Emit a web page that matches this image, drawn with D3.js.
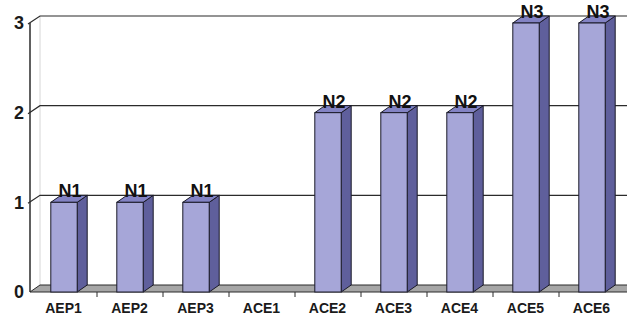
<!DOCTYPE html>
<html>
<head>
<meta charset="utf-8">
<script src="https://cdnjs.cloudflare.com/ajax/libs/d3/7.8.5/d3.min.js"></script>
<style>
  html, body { margin: 0; padding: 0; background: #fff; }
  svg { display: block; font-family: "Liberation Sans", Arial, sans-serif; }
</style>
</head>
<body>
<div id="chart"></div>
<script>
var categories = ["AEP1", "AEP2", "AEP3", "ACE1", "ACE2", "ACE3", "ACE4", "ACE5", "ACE6"];
var values = [1, 1, 1, 0, 2, 2, 2, 3, 3];
var barLabels = ["N1", "N1", "N1", "", "N2", "N2", "N2", "N3", "N3"];
var yTicks = [0, 1, 2, 3];

var width = 627, height = 320;
var dx = 10, dy = -7;   // depth offset of the 3d box

var svg = d3.select("#chart").append("svg")
  .attr("width", width)
  .attr("height", height);

var x = d3.scaleBand()
  .domain(categories)
  .range([31, 625])
  .paddingInner(0)
  .paddingOuter(0);

var y = d3.scaleLinear()
  .domain([0, 3])
  .range([292, 23]);

var left = x.range()[0] - 1;

// back wall left edge
svg.append("line")
  .attr("x1", left + dx).attr("x2", left + dx)
  .attr("y1", y(3) + dy).attr("y2", y(0) + dy)
  .attr("stroke", "#d6d6d6");

// gridlines: side wall diagonal + back wall horizontal
var grid = svg.append("g").attr("class", "grid");
yTicks.filter(function(d){ return d > 0; }).forEach(function(t){
  grid.append("path")
    .attr("d", "M" + (left - 2) + "," + (y(t) + 1) +
               "L" + (left + dx) + "," + (y(t) + dy) +
               "L" + width + "," + (y(t) + dy))
    .attr("fill", "none")
    .attr("stroke", "#2b2b2b")
    .attr("stroke-width", 1.2);
});

// floor
svg.append("path")
  .attr("d", "M" + left + "," + y(0) +
             "L" + (left + dx) + "," + (y(0) + dy) +
             "L" + (width + dx) + "," + (y(0) + dy) +
             "L" + width + "," + y(0) + "Z")
  .attr("fill", "#a6a6a6")
  .attr("stroke", "#2b2b2b")
  .attr("stroke-width", 1);

// value axis line
svg.append("line")
  .attr("x1", left).attr("x2", left)
  .attr("y1", y(3)).attr("y2", y(0))
  .attr("stroke", "#2b2b2b")
  .attr("stroke-width", 1.5);

// y tick labels
svg.append("g").selectAll("text")
  .data(yTicks)
  .enter()
  .append("text")
  .attr("x", 24)
  .attr("y", function(d){ return y(d); })
  .attr("dy", "0.36em")
  .attr("text-anchor", "end")
  .attr("font-size", "18px")
  .attr("font-weight", "bold")
  .attr("fill", "#1a1a1a")
  .text(function(d){ return d; });

// category ticks
svg.append("g").selectAll("line")
  .data(categories.slice(1))
  .enter()
  .append("line")
  .attr("x1", function(d){ return x(d); })
  .attr("x2", function(d){ return x(d); })
  .attr("y1", y(0))
  .attr("y2", y(0) + 5)
  .attr("stroke", "#2b2b2b");

// category labels
svg.append("g").selectAll("text")
  .data(categories)
  .enter()
  .append("text")
  .attr("x", function(d){ return x(d) + x.bandwidth() / 2 - 0.5; })
  .attr("y", 313)
  .attr("text-anchor", "middle")
  .attr("font-size", "14px")
  .attr("font-weight", "bold")
  .attr("fill", "#1a1a1a")
  .text(function(d){ return d; });

// bars
var barW = x.bandwidth() * 0.4;
var data = categories.map(function(c, i){
  return { name: c, value: values[i], label: barLabels[i] };
});

var bars = svg.append("g").selectAll("g")
  .data(data.filter(function(d){ return d.value > 0; }))
  .enter()
  .append("g")
  .attr("transform", function(d){
    return "translate(" + (x(d.name) + x.bandwidth() / 2 - barW / 2) + ",0)";
  });

// side face
bars.append("path")
  .attr("d", function(d){
    return "M" + barW + "," + y(0) +
           "L" + barW + "," + y(d.value) +
           "L" + (barW + dx) + "," + (y(d.value) + dy) +
           "L" + (barW + dx) + "," + (y(0) + dy) + "Z";
  })
  .attr("fill", "#5f5f9c")
  .attr("stroke", "#1a1a28")
  .attr("stroke-width", 1);

// top face
bars.append("path")
  .attr("d", function(d){
    return "M0," + y(d.value) +
           "L" + dx + "," + (y(d.value) + dy) +
           "L" + (barW + dx) + "," + (y(d.value) + dy) +
           "L" + barW + "," + y(d.value) + "Z";
  })
  .attr("fill", "#8383c4")
  .attr("stroke", "#1a1a28")
  .attr("stroke-width", 1);

// front face
bars.append("rect")
  .attr("x", 0)
  .attr("y", function(d){ return y(d.value); })
  .attr("width", barW)
  .attr("height", function(d){ return y(0) - y(d.value); })
  .attr("fill", "#a6a6d8")
  .attr("stroke", "#1a1a28")
  .attr("stroke-width", 1);

// value labels
bars.append("text")
  .attr("x", barW / 2 + dx / 2 + 1)
  .attr("y", function(d){ return y(d.value) + dy + 2; })
  .attr("text-anchor", "middle")
  .attr("font-size", "18px")
  .attr("font-weight", "bold")
  .attr("fill", "#111")
  .text(function(d){ return d.label; });
</script>
</body>
</html>
